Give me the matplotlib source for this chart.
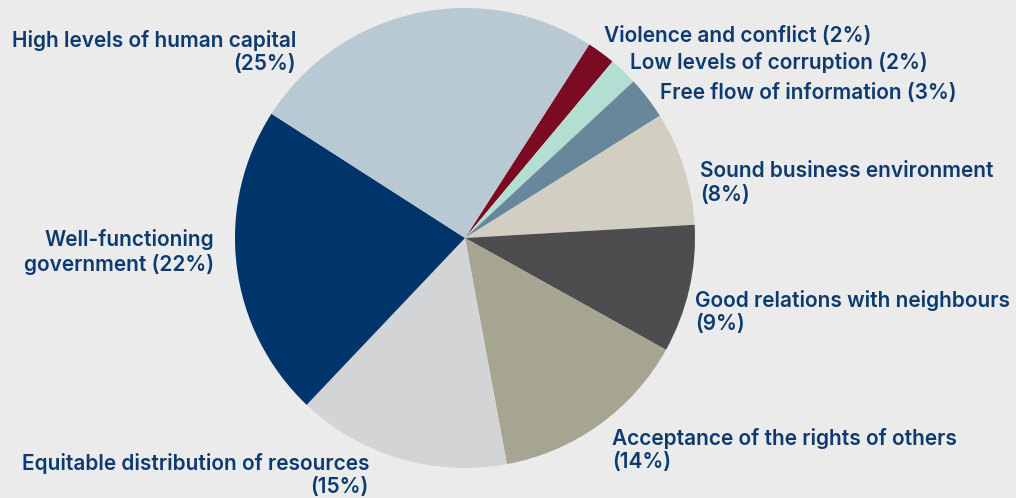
import matplotlib
matplotlib.use("Agg")
import matplotlib.pyplot as plt

# data, clockwise from the top-right
labels = ["Violence and conflict", "Low levels of corruption", "Free flow of information",
          "Sound business environment", "Good relations with neighbours",
          "Acceptance of the rights of others", "Equitable distribution of resources",
          "Well-functioning government", "High levels of human capital"]
shares = [2, 2, 3, 8, 9, 14, 15, 22, 25]
colors = ["#7b0b22", "#b2dfd2", "#68879a", "#d2cfc2", "#4d4d4f",
          "#a6a592", "#d3d4d6", "#00356b", "#b8c9d4"]

bg = "#ebebeb"
txt = "#0d3b6f"

plt.rcParams['font.family'] = ['Inter', 'DejaVu Sans']

fig = plt.figure(figsize=(10.16, 4.98), dpi=100, facecolor=bg)
ax = fig.add_axes([0, 0, 1, 1])
ax.set_facecolor(bg)

ax.pie(shares, colors=colors, startangle=57.3, counterclock=False,
       center=(465, 260), radius=230, wedgeprops=dict(linewidth=0))
ax.set_xlim(0, 1016)
ax.set_ylim(0, 498)
ax.set_aspect('equal')
ax.axis('off')

# label text and placement (pixel coords from top-left)
place = [
    ("Violence and conflict (2%)", 604, 36, 'left'),
    ("Low levels of corruption (2%)", 630, 62, 'left'),
    ("Free flow of information (3%)", 660, 93, 'left'),
    ("Sound business environment\n(8%)", 700, 183, 'left'),
    ("Good relations with neighbours\n(9%)", 695, 312, 'left'),
    ("Acceptance of the rights of others\n(14%)", 612, 450, 'left'),
    ("Equitable distribution of resources\n(15%)", 369, 475, 'right'),
    ("Well-functioning\ngovernment (22%)", 214, 252, 'right'),
    ("High levels of human capital\n(25%)", 296, 52, 'right'),
]
for s, x, y, ha in place:
    ax.text(x, 498 - y, s, ha=ha, va='center', multialignment=ha,
            fontsize=15, fontweight='semibold', color=txt, linespacing=1.2)

fig.savefig("out.png", dpi=100, facecolor=bg)
